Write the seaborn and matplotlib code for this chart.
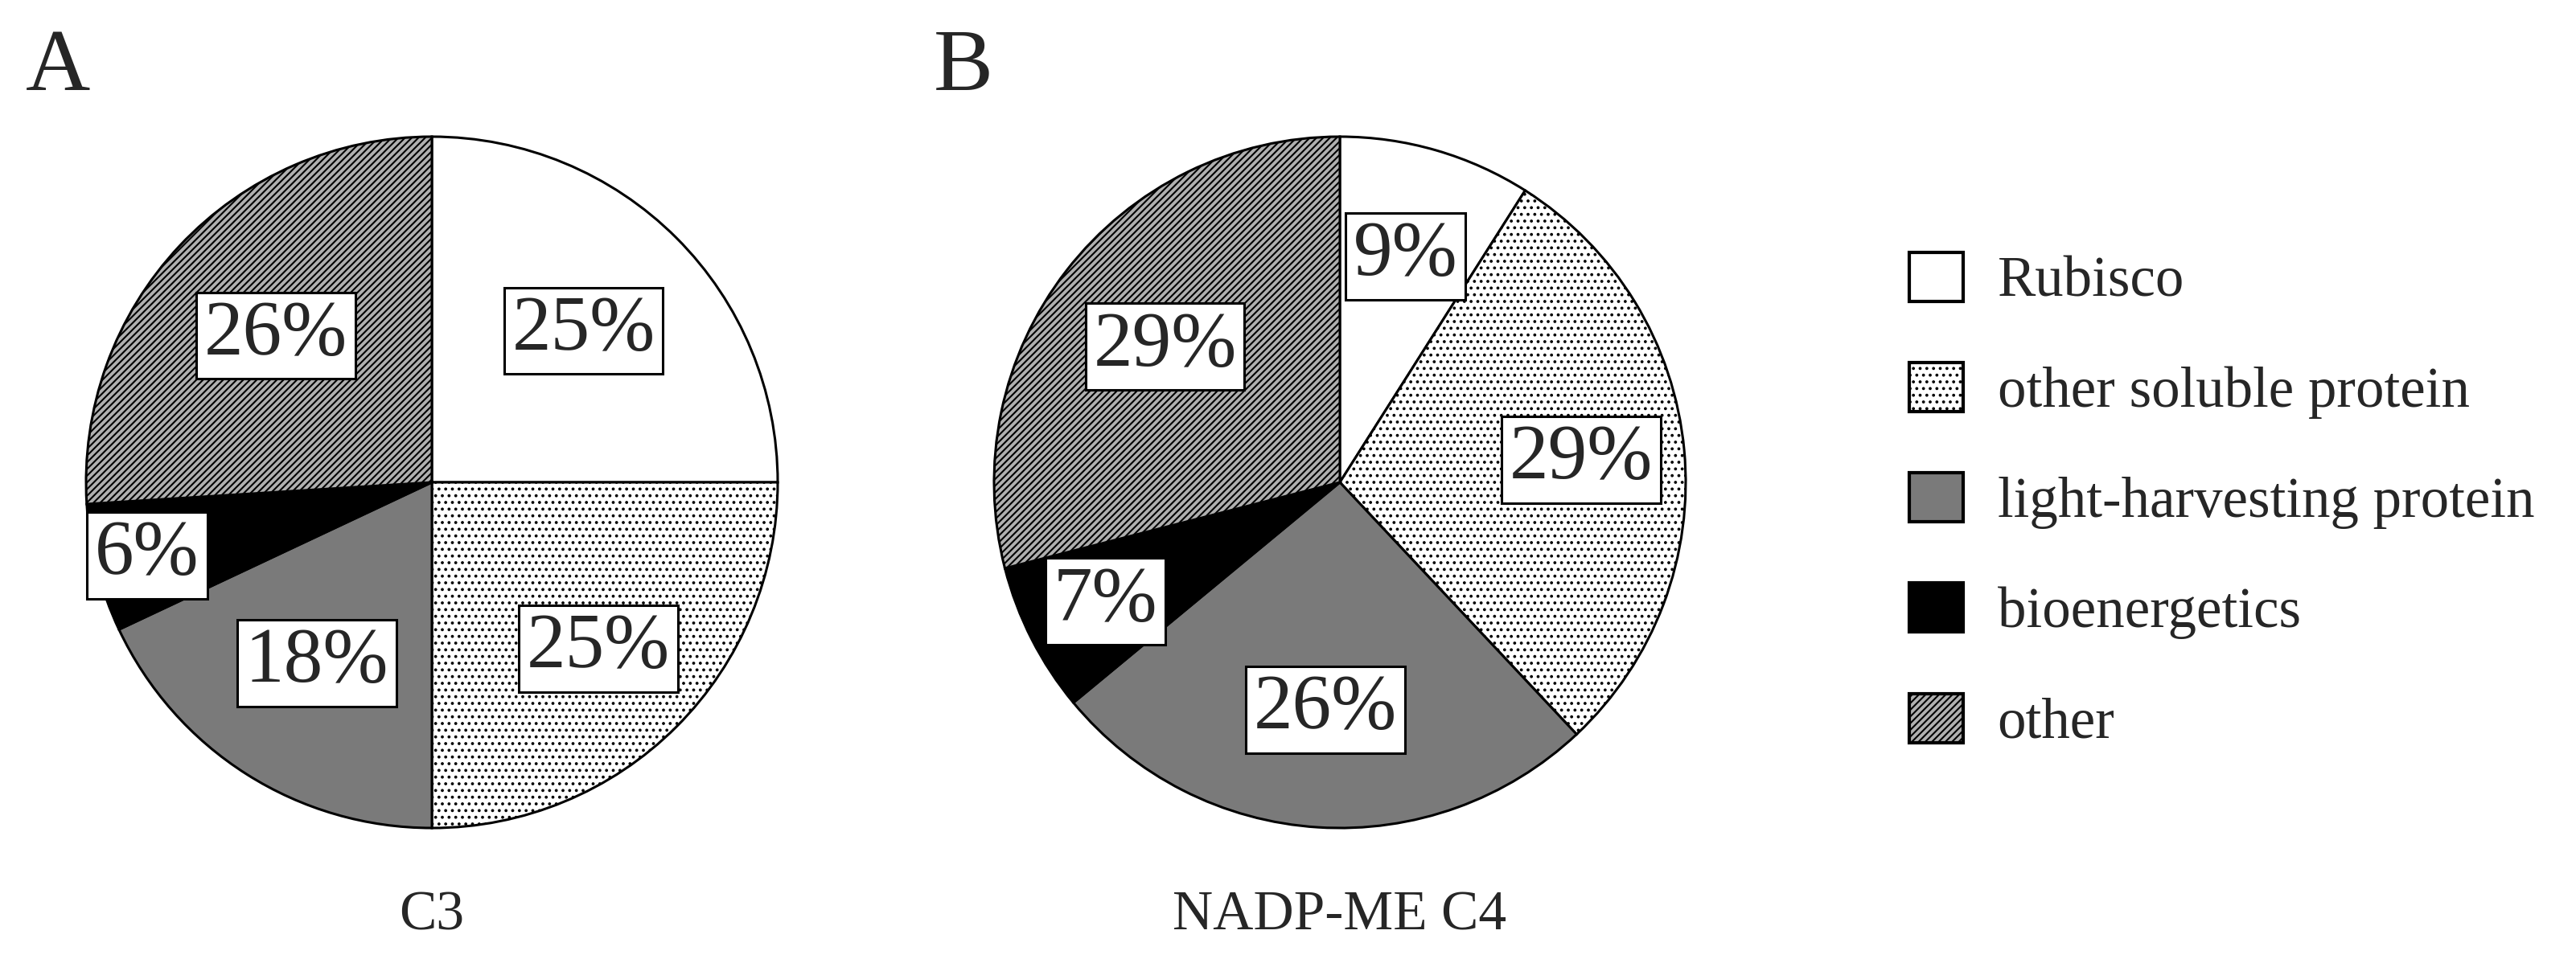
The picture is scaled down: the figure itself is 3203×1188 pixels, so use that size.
import matplotlib
matplotlib.use("Agg")
import matplotlib.pyplot as plt
import seaborn as sns
import numpy as np
from matplotlib.patches import Patch

sns.set_theme(style="white")
plt.rcParams['font.family'] = ['Liberation Serif', 'DejaVu Serif']
plt.rcParams['hatch.linewidth'] = 1.5

categories = ["Rubisco", "other soluble protein", "light-harvesting protein", "bioenergetics", "other"]
c3_values = [25, 25, 18, 6, 26]
c4_values = [9, 29, 26, 7, 29]
c3_label_r = [0.62, 0.68, 0.62, 0.85, 0.62]
c4_label_r = [0.68, 0.70, 0.66, 0.76, 0.64]
panel_titles = ["A", "B"]
subtitles = ["C3", "NADP-ME C4"]

faces = ["white", "white", "#7a7a7a", "black", "#b0b0b0"]
hatches = [None, "..", None, None, "////"]

fig = plt.figure(figsize=(32.03, 11.88), dpi=100)
W, H = 3203, 1188
R = 430
centers = [(537, 600), (1666, 600)]

def draw(ax, values, radii):
    wedges, _ = ax.pie(values, startangle=90, counterclock=False,
                       colors=faces, wedgeprops=dict(edgecolor="black", linewidth=2.2))
    for w, h in zip(wedges, hatches):
        if h:
            w.set_hatch(h)
    for w, v, r in zip(wedges, values, radii):
        ang = np.deg2rad((w.theta1 + w.theta2) / 2)
        ax.text(r * np.cos(ang), r * np.sin(ang), f"{v}%", ha="center", va="center",
                fontsize=70,
                bbox=dict(boxstyle="square,pad=0.1", facecolor="white", edgecolor="black", linewidth=2.2))
    ax.set_xlim(-1.02, 1.02); ax.set_ylim(-1.02, 1.02)
    ax.set_aspect("equal")
    ax.axis("off")

for (cx, cy), vals, radii, pt, st in zip(centers, [c3_values, c4_values], [c3_label_r, c4_label_r], panel_titles, subtitles):
    ax = fig.add_axes([(cx - R * 1.02) / W, (H - cy - R * 1.02) / H, 2 * R * 1.02 / W, 2 * R * 1.02 / H])
    draw(ax, vals, radii)
    fig.text((cx - 505) / W, (H - 85) / H, pt, fontsize=80, ha="left", va="center")
    fig.text(cx / W, (H - 1140) / H, st, fontsize=50, ha="center", va="center")

handles = [Patch(facecolor=f, edgecolor="black", linewidth=3, hatch=h) for f, h in zip(faces, hatches)]
fig.legend(handles, categories, loc="upper left", bbox_to_anchor=(2310 / W, (H - 250) / H),
           frameon=False, fontsize=51, handlelength=0.95, handleheight=0.95,
           labelspacing=0.95, handletextpad=0.6)

fig.savefig("out.png", dpi=100, facecolor="white")
